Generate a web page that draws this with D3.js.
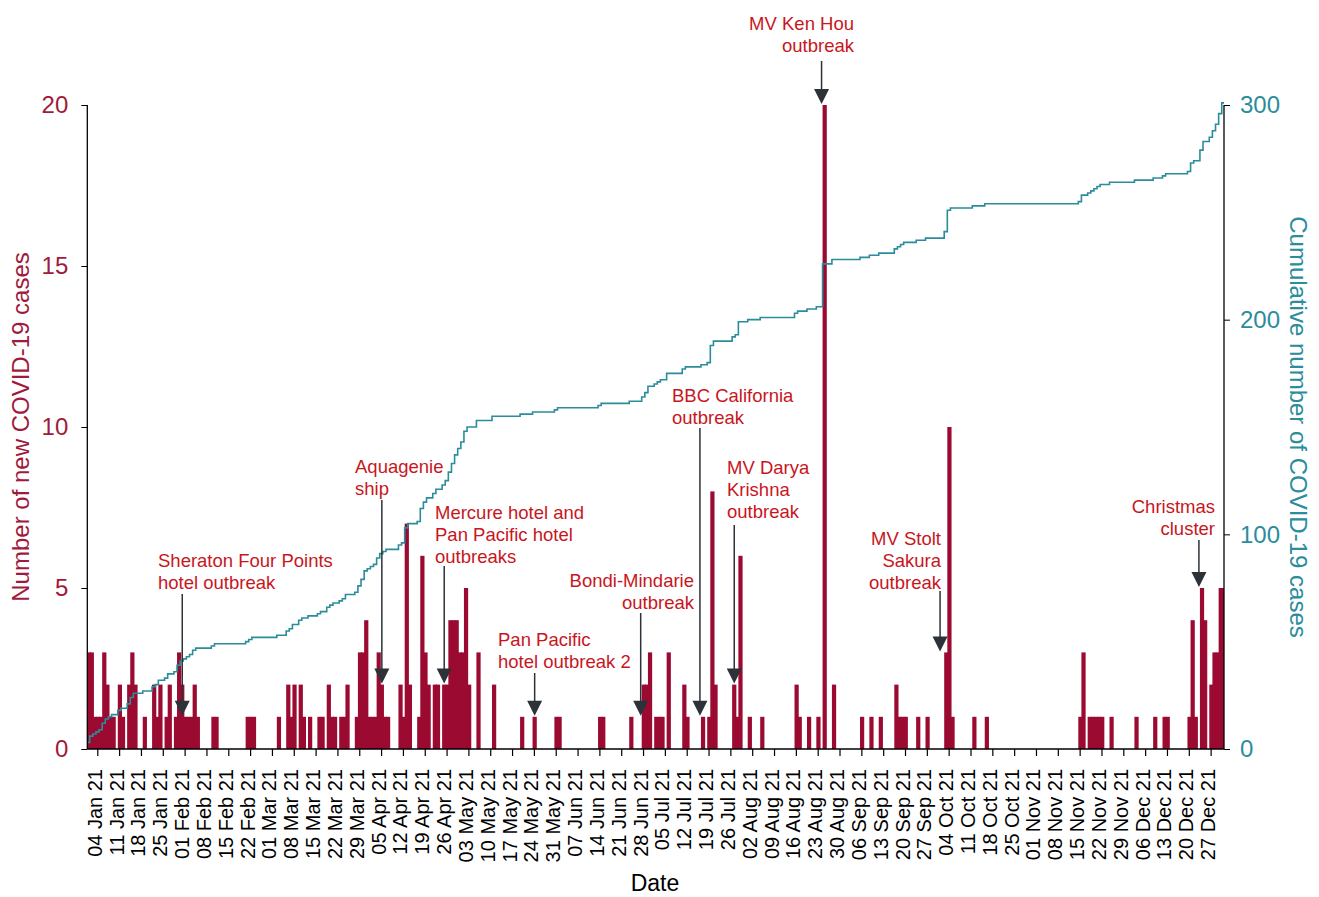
<!DOCTYPE html>
<html>
<head>
<meta charset="utf-8">
<script src="https://cdn.jsdelivr.net/npm/d3@7"></script>
<style>
  body { margin: 0; background: #fff; }
  text { font-family: "Liberation Sans", Arial, sans-serif; }
</style>
</head>
<body>
<svg id="chart" width="1319" height="897"></svg>
<script>
// New COVID-19 cases per day (days with no case are left out)
const newCases = [
  ["2021-01-01",3],["2021-01-02",3],["2021-01-03",1],["2021-01-04",1],["2021-01-05",1],["2021-01-06",3],
  ["2021-01-07",2],["2021-01-08",1],["2021-01-09",1],["2021-01-11",2],["2021-01-12",1],["2021-01-14",2],
  ["2021-01-15",3],["2021-01-16",2],["2021-01-19",1],["2021-01-22",2],["2021-01-23",1],["2021-01-24",2],
  ["2021-01-26",1],["2021-01-27",2],["2021-01-29",1],["2021-01-30",3],["2021-01-31",2],
  ["2021-02-01",1],["2021-02-02",1],["2021-02-03",1],["2021-02-04",2],["2021-02-05",1],["2021-02-10",1],
  ["2021-02-11",1],["2021-02-21",1],["2021-02-22",1],["2021-02-23",1],
  ["2021-03-03",1],["2021-03-06",2],["2021-03-07",1],["2021-03-08",2],["2021-03-10",2],["2021-03-11",1],
  ["2021-03-13",1],["2021-03-16",1],["2021-03-17",1],["2021-03-19",2],["2021-03-20",1],["2021-03-21",1],
  ["2021-03-23",1],["2021-03-24",1],["2021-03-25",2],["2021-03-28",1],["2021-03-29",3],["2021-03-30",3],
  ["2021-03-31",4],
  ["2021-04-01",1],["2021-04-02",1],["2021-04-03",1],["2021-04-04",3],["2021-04-05",2],["2021-04-06",1],
  ["2021-04-07",1],["2021-04-11",2],["2021-04-12",1],["2021-04-13",7],["2021-04-14",2],["2021-04-17",1],
  ["2021-04-18",6],["2021-04-19",3],["2021-04-20",2],["2021-04-22",2],["2021-04-23",2],["2021-04-25",2],
  ["2021-04-26",2],["2021-04-27",4],["2021-04-28",4],["2021-04-29",4],["2021-04-30",3],
  ["2021-05-01",3],["2021-05-02",5],["2021-05-03",2],["2021-05-06",3],["2021-05-11",2],["2021-05-20",1],
  ["2021-05-24",1],["2021-05-31",1],
  ["2021-06-01",1],["2021-06-14",1],["2021-06-15",1],["2021-06-24",1],["2021-06-28",2],["2021-06-29",2],
  ["2021-06-30",3],
  ["2021-07-02",1],["2021-07-03",1],["2021-07-04",1],["2021-07-06",3],["2021-07-11",2],["2021-07-12",1],
  ["2021-07-17",1],["2021-07-19",1],["2021-07-20",8],["2021-07-21",2],["2021-07-27",2],["2021-07-28",1],
  ["2021-07-29",6],
  ["2021-08-01",1],["2021-08-05",1],["2021-08-16",2],["2021-08-17",1],["2021-08-20",1],["2021-08-23",1],
  ["2021-08-25",20],["2021-08-28",2],
  ["2021-09-06",1],["2021-09-09",1],["2021-09-12",1],["2021-09-17",2],["2021-09-18",1],["2021-09-19",1],
  ["2021-09-20",1],["2021-09-24",1],["2021-09-27",1],
  ["2021-10-03",3],["2021-10-04",10],["2021-10-05",1],["2021-10-12",1],["2021-10-16",1],
  ["2021-11-15",1],["2021-11-16",3],["2021-11-18",1],["2021-11-19",1],["2021-11-20",1],["2021-11-21",1],
  ["2021-11-22",1],["2021-11-25",1],
  ["2021-12-03",1],["2021-12-09",1],["2021-12-12",1],["2021-12-13",1],["2021-12-20",1],["2021-12-21",4],
  ["2021-12-22",1],["2021-12-24",5],["2021-12-25",4],["2021-12-27",2],["2021-12-28",3],["2021-12-29",3],
  ["2021-12-30",5],["2021-12-31",5]
];

const leftTicks = [0, 5, 10, 15, 20];
const rightTicks = [0, 100, 200, 300];

// outbreak labels: text lines, where the text sits, arrow date and the bar height it points to
const notes = [
  { lines: ["Sheraton Four Points", "hotel outbreak"], tx: 158, ty: 567, anchor: "start", date: "2021-01-31", top: 594, tip: 1 },
  { lines: ["Aquagenie", "ship"], tx: 355, ty: 473, anchor: "start", date: "2021-04-05", top: 500, tip: 2 },
  { lines: ["Mercure hotel and", "Pan Pacific hotel", "outbreaks"], tx: 435, ty: 519, anchor: "start", date: "2021-04-25", top: 566, tip: 2 },
  { lines: ["Pan Pacific", "hotel outbreak 2"], tx: 498, ty: 646, anchor: "start", date: "2021-05-24", top: 673, tip: 1 },
  { lines: ["Bondi-Mindarie", "outbreak"], tx: 694, ty: 587, anchor: "end", date: "2021-06-27", top: 613, tip: 1 },
  { lines: ["BBC California", "outbreak"], tx: 672, ty: 402, anchor: "start", date: "2021-07-16", top: 428, tip: 1 },
  { lines: ["MV Darya", "Krishna", "outbreak"], tx: 727, ty: 474, anchor: "start", date: "2021-07-27", top: 525, tip: 2 },
  { lines: ["MV Ken Hou", "outbreak"], tx: 854, ty: 30, anchor: "end", date: "2021-08-24", top: 61, tip: 20 },
  { lines: ["MV Stolt", "Sakura", "outbreak"], tx: 941, ty: 545, anchor: "end", date: "2021-10-01", top: 591, tip: 3 },
  { lines: ["Christmas", "cluster"], tx: 1215, ty: 513, anchor: "end", date: "2021-12-23", top: 540, tip: 5 }
];

const BAR = '#9b0a30', TEAL = '#2b8c9c', CRIMSON = '#a01a3c', NOTE = '#c8161d', ARROW = '#2d3238';

const parse = d3.timeParse('%Y-%m-%d');
const svg = d3.select('#chart');
const L = 87.3, R = 1224, T = 105, B = 749;

const x = d3.scaleTime()
  .domain([new Date(2021, 0, 1), new Date(2021, 11, 31)])
  .range([87.94, 1223.1]);
const dayW = x(new Date(2021, 0, 2)) - x(new Date(2021, 0, 1));
const barW = dayW * 1.35;
const shift = 0.76;
const yL = d3.scaleLinear().domain([0, 20]).range([B, T]);
const yR = d3.scaleLinear().domain([0, 300]).range([B, T]);

svg.append('defs').append('clipPath').attr('id', 'plot')
  .append('rect').attr('x', L).attr('y', 0).attr('width', R - L).attr('height', B);

const cases = newCases.map(([d, v]) => ({ date: parse(d), v }));
const byDay = new Map(cases.map(c => [+c.date, c.v]));
const days = d3.timeDay.range(new Date(2021, 0, 1), new Date(2022, 0, 1));
const cum = d3.cumsum(days, d => byDay.get(+d) || 0);

// bars
svg.append('g').attr('clip-path', 'url(#plot)')
  .selectAll('rect').data(cases).join('rect')
  .attr('x', d => x(d.date) + shift - barW / 2)
  .attr('y', d => yL(d.v))
  .attr('width', barW)
  .attr('height', d => B - yL(d.v))
  .attr('fill', BAR);

// cumulative line
const pts = days.map((d, i) => [x(d) + shift - barW / 2, cum[i]]);
pts.push([R, cum[cum.length - 1]]);
svg.append('path')
  .attr('clip-path', 'url(#plot)')
  .attr('d', d3.line().x(p => p[0]).y(p => yR(p[1])).curve(d3.curveStepAfter)(pts))
  .attr('fill', 'none').attr('stroke', TEAL).attr('stroke-width', 1.6);

// left axis
const gl = svg.append('g').attr('transform', `translate(${L},0)`)
  .call(d3.axisLeft(yL).tickValues(leftTicks).tickSize(6).tickPadding(13));
gl.select('.domain').remove();
gl.selectAll('line').attr('stroke', '#000');
gl.selectAll('text').attr('font-size', 24).attr('fill', CRIMSON);
svg.append('line').attr('x1', L).attr('x2', L).attr('y1', T).attr('y2', B).attr('stroke', '#000').attr('stroke-width', 1.3);

// right axis
const gr = svg.append('g').attr('transform', `translate(${R},0)`)
  .call(d3.axisRight(yR).tickValues(rightTicks).tickSize(6).tickPadding(10));
gr.select('.domain').remove();
gr.selectAll('line').attr('stroke', '#000');
gr.selectAll('text').attr('font-size', 24).attr('fill', TEAL);
svg.append('line').attr('x1', R).attr('x2', R).attr('y1', T).attr('y2', B).attr('stroke', '#000').attr('stroke-width', 1.3);

// bottom axis
const gb = svg.append('g').attr('transform', `translate(0,${B})`)
  .call(d3.axisBottom(x).ticks(d3.timeMonday.every(1)).tickFormat(d3.timeFormat('%d %b %y')).tickSize(7));
gb.select('.domain').remove();
gb.selectAll('line').attr('stroke', '#000').attr('stroke-width', 1.2);
gb.selectAll('text')
  .attr('font-size', 20).attr('fill', '#000')
  .attr('text-anchor', 'end')
  .attr('transform', 'translate(0,20) rotate(-90)')
  .attr('x', 0).attr('y', 0).attr('dy', '0.2em');
svg.append('line').attr('x1', L).attr('x2', R).attr('y1', B).attr('y2', B).attr('stroke', '#000').attr('stroke-width', 1.3);

// axis titles
svg.append('text').attr('transform', 'translate(29,427) rotate(-90)')
  .attr('text-anchor', 'middle').attr('font-size', 24).attr('fill', CRIMSON)
  .text('Number of new COVID-19 cases');
svg.append('text').attr('transform', 'translate(1290,427) rotate(90)')
  .attr('text-anchor', 'middle').attr('font-size', 24).attr('fill', TEAL)
  .text('Cumulative number of COVID-19 cases');
svg.append('text').attr('x', 655).attr('y', 891)
  .attr('text-anchor', 'middle').attr('font-size', 23).attr('fill', '#000')
  .text('Date');

// annotations
const gn = svg.append('g');
notes.forEach(n => {
  const ax = x(parse(n.date)) + shift;
  const tipY = yL(n.tip) - 1;
  gn.append('line').attr('x1', ax).attr('x2', ax).attr('y1', n.top).attr('y2', tipY - 14)
    .attr('stroke', ARROW).attr('stroke-width', 1.5);
  gn.append('path')
    .attr('d', `M${ax - 7.5},${tipY - 15}L${ax + 7.5},${tipY - 15}L${ax},${tipY}Z`)
    .attr('fill', ARROW);
  const t = gn.append('text').attr('font-size', 18.5).attr('fill', NOTE).attr('text-anchor', n.anchor);
  n.lines.forEach((s, i) => {
    t.append('tspan').attr('x', n.tx).attr('y', n.ty + i * 22).text(s);
  });
});
</script>
</body>
</html>
